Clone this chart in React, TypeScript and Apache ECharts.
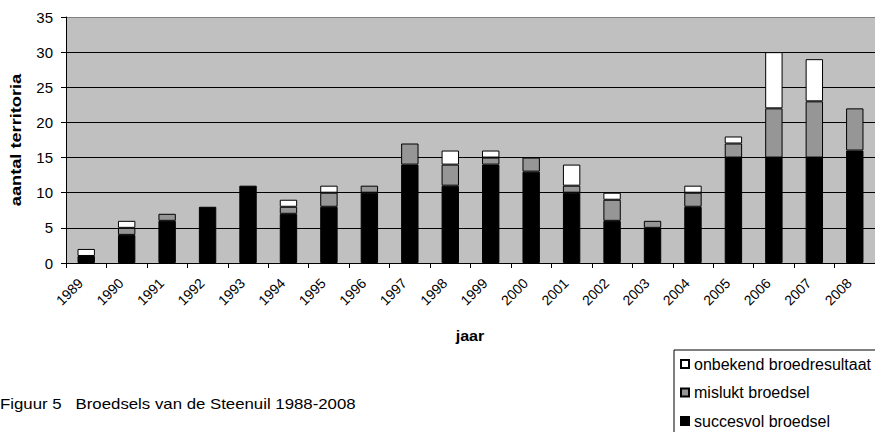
import React, { useEffect, useRef } from 'react';
import * as echarts from 'echarts';

const years = ['1989','1990','1991','1992','1993','1994','1995','1996','1997','1998','1999','2000','2001','2002','2003','2004','2005','2006','2007','2008'];
const succesvol = [1,4,6,8,11,7,8,10,14,11,14,13,10,6,5,8,15,15,15,16];
const mislukt = [0,1,1,0,0,1,2,1,3,3,1,2,1,3,1,2,2,7,8,6];
const onbekend = [1,1,0,0,0,1,1,0,0,2,1,0,3,1,0,1,1,8,6,0];
const yTicks = { min: 0, max: 35, interval: 5 };
const seriesNames = ['succesvol broedsel', 'mislukt broedsel', 'onbekend broedresultaat'];

const FONT = 'Liberation Sans, Arial, sans-serif';

export default function App() {
  const ref = useRef<HTMLDivElement>(null);
  useEffect(() => {
    document.body.style.margin = '0';
    const chart = echarts.init(ref.current!, null, { renderer: 'svg' });
    const z = (arr: number[]) => arr.map((v) => (v === 0 ? null : v));
    const mk = (name: string, data: number[], color: string) => ({
      name,
      type: 'bar',
      stack: 'total',
      data: z(data),
      barWidth: '43%',
      itemStyle: { color, borderColor: '#000', borderWidth: 1 },
    });
    chart.setOption({
      animation: false,
      textStyle: { fontFamily: FONT },
      grid: {
        left: 66, top: 17, width: 810, height: 246,
        show: true, backgroundColor: '#c0c0c0', borderWidth: 0,
      },
      xAxis: {
        type: 'category',
        data: years,
        axisLine: { show: true, lineStyle: { color: '#000', width: 1 } },
        axisTick: { show: true, interval: 0, length: 5, lineStyle: { color: '#000' } },
        axisLabel: {
          interval: 0, rotate: 45, fontSize: 14, color: '#000', margin: 12,
          fontFamily: FONT, padding: [0, 8, 0, 0],
        },
      },
      yAxis: {
        type: 'value',
        min: yTicks.min, max: yTicks.max, interval: yTicks.interval,
        axisLine: { show: true, lineStyle: { color: '#000', width: 1 } },
        axisTick: { show: true, length: 5, lineStyle: { color: '#000' } },
        axisLabel: { fontSize: 15, color: '#000', margin: 13, fontFamily: FONT },
        splitLine: {
          show: true,
          lineStyle: {
            color: ['#000', '#000', '#000', '#000', '#000', '#000', '#000', '#808080'],
            width: 1,
          },
        },
      },
      legend: {
        orient: 'vertical',
        left: 680,
        top: 355,
        padding: 0,
        itemWidth: 8,
        itemHeight: 8,
        itemGap: 10.5,
        icon: 'rect',
        data: ['onbekend broedresultaat', 'mislukt broedsel', 'succesvol broedsel'],
        textStyle: { fontSize: 16, lineHeight: 18, color: '#000', fontFamily: FONT },
        z: 10,
      },
      graphic: [
        {
          type: 'rect', z: 1,
          shape: { x: 674, y: 350, width: 220, height: 100 },
          style: { fill: '#fff', stroke: '#000', lineWidth: 1 },
        },
        {
          type: 'text', x: 16, y: 140, rotation: Math.PI / 2, scaleX: 1.3,
          style: {
            text: 'aantal territoria', fontSize: 14, fontWeight: 'bold',
            fontFamily: FONT, fill: '#000', align: 'center', verticalAlign: 'middle',
          },
        },
        {
          type: 'text', x: 470, y: 336, scaleX: 1.15,
          style: {
            text: 'jaar', fontSize: 14, fontWeight: 'bold',
            fontFamily: FONT, fill: '#000', align: 'center', verticalAlign: 'middle',
          },
        },
        {
          type: 'text', x: 0, y: 404, scaleX: 1.2,
          style: {
            text: 'Figuur 5   Broedsels van de Steenuil 1988-2008', fontSize: 14,
            fontFamily: FONT, fill: '#000', align: 'left', verticalAlign: 'middle',
          },
        },
      ],
      series: [
        mk(seriesNames[0], succesvol, '#000000'),
        mk(seriesNames[1], mislukt, '#969696'),
        mk(seriesNames[2], onbekend, '#ffffff'),
      ],
    });
    return () => chart.dispose();
  }, []);
  return <div ref={ref} style={{ width: 875, height: 432 }} />;
}
